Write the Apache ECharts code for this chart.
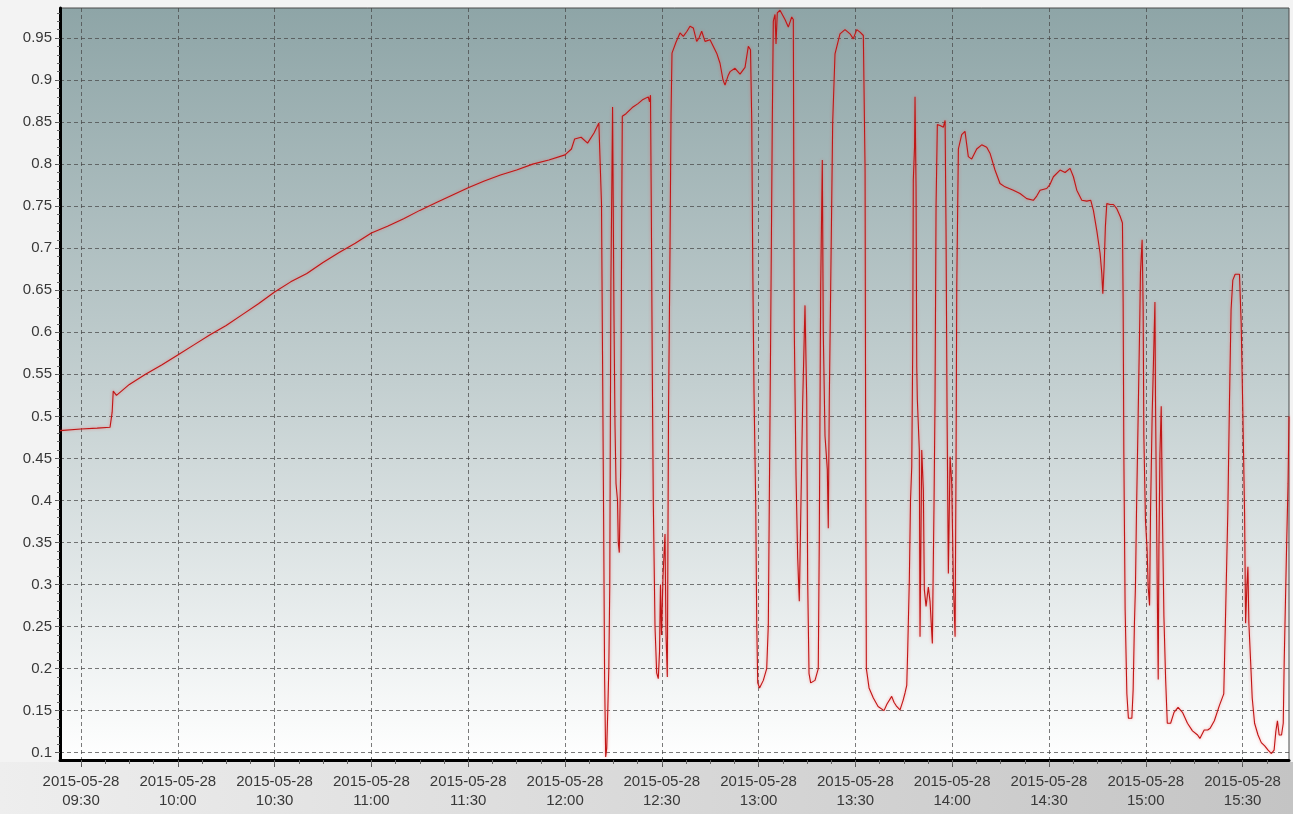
<!DOCTYPE html>
<html>
<head>
<meta charset="utf-8">
<script src="https://cdn.jsdelivr.net/npm/echarts@6/dist/echarts.min.js"></script>
<style>
html,body{margin:0;padding:0;background:#f3f3f3;}
#chart{width:1293px;height:814px;}
</style>
</head>
<body>
<div id="chart"></div>
<script>
const DAY = '2015-05-28';

// Sample times (HH:MM:SS) and values
const times = [
'09:23:30','09:30:00','09:35:00','09:39:00','09:39:40','09:40:00','09:41:00','09:45:00','09:50:00','09:55:00',
'10:00:00','10:05:00','10:10:00','10:15:00','10:20:00','10:25:00','10:30:00','10:35:00','10:40:00','10:45:00',
'10:50:00','10:55:00','11:00:00','11:05:00','11:10:00','11:15:00','11:20:00','11:25:00','11:30:00','11:35:00',
'11:40:00','11:45:00','11:50:00','11:55:00','12:00:00','12:02:00','12:03:00','12:05:00','12:07:00','12:09:00',
'12:10:30','12:11:00','12:11:19','12:11:38','12:11:58','12:12:17','12:12:37','12:12:56','12:13:16','12:13:35',
'12:13:53','12:14:14','12:14:32','12:14:45','12:15:11','12:15:30','12:15:49','12:16:17','12:16:31','12:16:50',
'12:17:16','12:17:34','12:17:46','12:18:55','12:21:05','12:22:38','12:24:11','12:25:49','12:26:12','12:26:30',
'12:26:45','12:27:04','12:27:22','12:27:54','12:28:25','12:28:55','12:29:18','12:29:36','12:29:55','12:30:23',
'12:31:00','12:31:19','12:31:43','12:32:05','12:32:33','12:32:52','12:33:10','12:34:24','12:35:39','12:36:40',
'12:37:49','12:38:45','12:39:46','12:40:49','12:41:32','12:42:22','12:43:24','12:44:57','12:47:01','12:48:03',
'12:48:59','12:49:36','12:50:32','12:51:09','12:52:42','12:54:15','12:55:48','12:56:49','12:57:30','12:57:53',
'12:58:11','12:58:35','12:59:07','12:59:26','12:59:44','13:00:18','13:01:28','13:02:31','13:03:01','13:03:19',
'13:03:45','13:04:15','13:04:34','13:05:06','13:05:24','13:05:48','13:06:38','13:07:10','13:08:11','13:09:13',
'13:10:16','13:10:46','13:11:04','13:11:36','13:12:07','13:12:37','13:13:03','13:13:40','13:14:23','13:14:55',
'13:15:13','13:15:38','13:16:09','13:17:29','13:18:30','13:18:49','13:19:15','13:19:45','13:20:03','13:20:35',
'13:21:18','13:21:36','13:21:55','13:22:21','13:22:58','13:23:41','13:25:14','13:26:47','13:28:20','13:29:21',
'13:30:25','13:31:26','13:32:28','13:33:00','13:33:13','13:33:24','13:34:14','13:35:34','13:37:02','13:37:38',
'13:38:52','13:39:48','13:41:15','13:41:58','13:42:48','13:43:50','13:44:46','13:45:23','13:45:55','13:46:13',
'13:46:43','13:47:05','13:47:28','13:47:46','13:47:57','13:48:20','13:48:29','13:48:48','13:49:01','13:49:12',
'13:49:49','13:50:02','13:50:34','13:51:04','13:51:22','13:51:54','13:52:37','13:53:08','13:53:51','13:54:23',
'13:54:41','13:55:00','13:55:24','13:56:14','13:57:16','13:57:48','13:58:06','13:58:25','13:58:49','13:59:21',
'13:59:52','14:00:22','14:00:54','14:01:12','14:01:25','14:01:55','14:02:57','14:03:58','14:05:00','14:06:03',
'14:07:36','14:09:09','14:10:42','14:11:43','14:13:16','14:14:49','14:16:22','14:18:57','14:21:01','14:23:06',
'14:25:09','14:26:12','14:27:14','14:29:18','14:30:20','14:31:22','14:33:26','14:34:59','14:36:32','14:37:34',
'14:38:37','14:40:10','14:41:43','14:42:57','14:43:46','14:44:49','14:45:50','14:46:22','14:46:41','14:47:05',
'14:47:29','14:47:55','14:48:57','14:49:58','14:51:01','14:52:03','14:52:46','14:52:59','14:53:12','14:53:36',
'14:54:08','14:54:37','14:55:41','14:56:05','14:56:29','14:56:48','14:57:07','14:57:38','14:58:10','14:58:21',
'14:58:52','14:59:11','14:59:24','14:59:54','15:00:25','15:00:44','15:01:10','15:01:28','15:01:58','15:02:30',
'15:02:50','15:03:01','15:03:20','15:03:33','15:03:51','15:04:04','15:04:23','15:04:47','15:05:06','15:05:37',
'15:06:09','15:06:40','15:07:42','15:08:45','15:10:00','15:11:22','15:12:55','15:14:28','15:16:03','15:16:46',
'15:18:06','15:19:11','15:19:57','15:21:15','15:22:48','15:24:10','15:24:40','15:25:25','15:25:56','15:26:26',
'15:26:58','15:27:42','15:29:02','15:29:34','15:30:06','15:30:37','15:30:56','15:31:20','15:31:39','15:31:57',
'15:32:29','15:32:59','15:33:43','15:34:47','15:35:48','15:36:51','15:37:54','15:38:56','15:39:46','15:40:18',
'15:40:48','15:41:20','15:42:04','15:42:36','15:42:54','15:43:37','15:44:05','15:44:23'
];

const values = [
0.483,0.485,0.486,0.487,0.505,0.530,0.525,0.538,0.550,0.561,
0.573,0.585,0.597,0.608,0.621,0.634,0.648,0.660,0.670,0.683,
0.695,0.706,0.718,0.726,0.735,0.745,0.754,0.763,0.772,0.780,
0.787,0.793,0.800,0.805,0.811,0.818,0.830,0.832,0.825,0.837,
0.849,0.849,0.753,0.574,0.384,0.188,0.095,0.105,0.150,0.200,
0.300,0.660,0.780,0.868,0.620,0.490,0.420,0.400,0.350,0.338,
0.440,0.727,0.857,0.860,0.868,0.872,0.877,0.880,0.874,0.882,
0.750,0.550,0.400,0.250,0.195,0.188,0.220,0.300,0.240,0.310,
0.360,0.240,0.190,0.500,0.700,0.860,0.932,0.945,0.956,0.952,
0.958,0.964,0.962,0.946,0.950,0.958,0.946,0.948,0.932,0.920,
0.900,0.894,0.905,0.910,0.914,0.907,0.915,0.940,0.936,0.850,
0.684,0.528,0.395,0.252,0.183,0.177,0.186,0.200,0.252,0.395,
0.600,0.850,0.970,0.978,0.943,0.980,0.983,0.985,0.972,0.963,
0.975,0.972,0.603,0.430,0.332,0.280,0.378,0.517,0.632,0.520,
0.304,0.194,0.183,0.186,0.200,0.355,0.655,0.805,0.600,0.477,
0.437,0.367,0.520,0.655,0.850,0.931,0.955,0.960,0.955,0.949,
0.960,0.957,0.953,0.794,0.420,0.200,0.177,0.165,0.155,0.153,
0.150,0.158,0.167,0.160,0.155,0.151,0.162,0.171,0.180,0.222,
0.305,0.400,0.440,0.579,0.781,0.820,0.880,0.773,0.559,0.520,
0.460,0.238,0.460,0.412,0.294,0.274,0.297,0.280,0.230,0.400,
0.520,0.750,0.847,0.846,0.844,0.852,0.718,0.500,0.313,0.452,
0.420,0.302,0.238,0.450,0.654,0.818,0.835,0.839,0.809,0.806,
0.818,0.823,0.820,0.813,0.793,0.777,0.773,0.769,0.765,0.759,
0.757,0.762,0.769,0.771,0.776,0.785,0.793,0.790,0.795,0.785,
0.769,0.757,0.756,0.757,0.745,0.721,0.694,0.670,0.646,0.678,
0.726,0.753,0.752,0.752,0.747,0.738,0.730,0.636,0.455,0.270,
0.170,0.141,0.141,0.175,0.254,0.298,0.385,0.500,0.622,0.671,
0.710,0.627,0.477,0.376,0.341,0.298,0.275,0.385,0.500,0.583,
0.636,0.517,0.385,0.298,0.187,0.341,0.455,0.512,0.400,0.262,
0.187,0.135,0.135,0.148,0.154,0.148,0.135,0.126,0.121,0.117,
0.127,0.127,0.129,0.138,0.156,0.170,0.254,0.385,0.517,0.627,
0.662,0.669,0.669,0.610,0.500,0.385,0.254,0.298,0.321,0.254,
0.209,0.165,0.135,0.121,0.112,0.108,0.103,0.099,0.103,0.125,
0.138,0.121,0.121,0.135,0.209,0.341,0.420,0.500
];

// Axis ticks
const xTickLabels = ['09:30','10:00','10:30','11:00','11:30','12:00','12:30','13:00','13:30','14:00','14:30','15:00','15:30'];
const yTickValues = [0.1,0.15,0.2,0.25,0.3,0.35,0.4,0.45,0.5,0.55,0.6,0.65,0.7,0.75,0.8,0.85,0.9,0.95];
const xRange = ['09:23:30','15:44:23'];
const yRange = [0.0913, 0.9857];

function ts(t){ return new Date(DAY + 'T' + t).getTime(); }
function pad(n){ return (n<10?'0':'')+n; }

const xMajor = xTickLabels.map(t => ts(t + ':00'));
const xMin = ts(xRange[0]), xMax = ts(xRange[1]);
const xMinor = [];
for (let v = ts('09:22:30'); v <= xMax; v += 7.5*60*1000) { if (v >= xMin) xMinor.push(v); }
const yMinor = [];
for (let k = 10; k <= 98; k++) { const v = k/100; if (v >= yRange[0] && v <= yRange[1]) yMinor.push(v); }

const seriesData = times.map((t, i) => [ts(t), values[i]]);

const chart = echarts.init(document.getElementById('chart'), null, {renderer:'canvas'});
const FONT = 'Liberation Sans, Arial, sans-serif';

chart.setOption({
  animation: false,
  backgroundColor: '#f3f3f3',
  graphic: [{
    type: 'rect', left: 0, top: 762, z: -10,
    shape: {width: 1293, height: 52},
    style: {fill: new echarts.graphic.LinearGradient(0,0,1,0,[{offset:0,color:'#eeeeee'},{offset:1,color:'#c4c4c4'}])}
  }],
  grid: {
    left: 60, right: 4, top: 8, bottom: 54,
    show: true,
    borderColor: '#4a4a4a', borderWidth: 1,
    backgroundColor: new echarts.graphic.LinearGradient(0,0,0,1,[
      {offset:0,color:'#8ea5a7'},{offset:0.5,color:'#c3cfd0'},{offset:1,color:'#ffffff'}
    ])
  },
  xAxis: [{
    type: 'value', min: xMin, max: xMax, scale: true,
    axisLine: {show: true, lineStyle: {color:'#000', width: 3}},
    axisTick: {show: true, customValues: xMajor, length: 7, lineStyle: {color:'#555', width:1}},
    axisLabel: {
      customValues: xMajor, color:'#383838', fontFamily: FONT, fontSize: 15, lineHeight: 19, margin: 12,
      formatter: v => { const d = new Date(v); return DAY + '\n' + pad(d.getHours()) + ':' + pad(d.getMinutes()); }
    },
    splitLine: {show: true, lineStyle: {color:'rgba(70,70,70,0.72)', type:[4,3], width:1}}
  },{
    type: 'value', min: xMin, max: xMax, scale: true, position: 'bottom',
    axisLine: {show: false},
    axisTick: {show: true, customValues: xMinor, length: 4, lineStyle: {color:'#666', width:1}},
    axisLabel: {show: false},
    splitLine: {show: false}
  }],
  yAxis: [{
    type: 'value', min: yRange[0], max: yRange[1],
    axisLine: {show: true, lineStyle: {color:'#000', width: 3}},
    axisTick: {show: true, customValues: yTickValues, length: 5, lineStyle: {color:'#555', width:1}},
    axisLabel: {
      customValues: yTickValues, color:'#383838', fontFamily: FONT, fontSize: 15, margin: 8,
      formatter: v => String(+(+v).toFixed(2))
    },
    splitLine: {show: true, lineStyle: {color:'rgba(70,70,70,0.72)', type:[4,3], width:1}}
  },{
    type: 'value', min: yRange[0], max: yRange[1], position: 'left',
    axisLine: {show: false},
    axisTick: {show: true, customValues: yMinor, length: 3, lineStyle: {color:'#666', width:1}},
    axisLabel: {show: false},
    splitLine: {show: false}
  }],
  series: [{
    type: 'line', xAxisIndex: 0, yAxisIndex: 0,
    data: seriesData, showSymbol: false, symbol: 'none',
    lineStyle: {color:'#c01616', width: 1.1, shadowColor:'rgba(255,60,60,0.55)', shadowBlur: 3},
    clip: true
  }]
});
</script>
</body>
</html>
